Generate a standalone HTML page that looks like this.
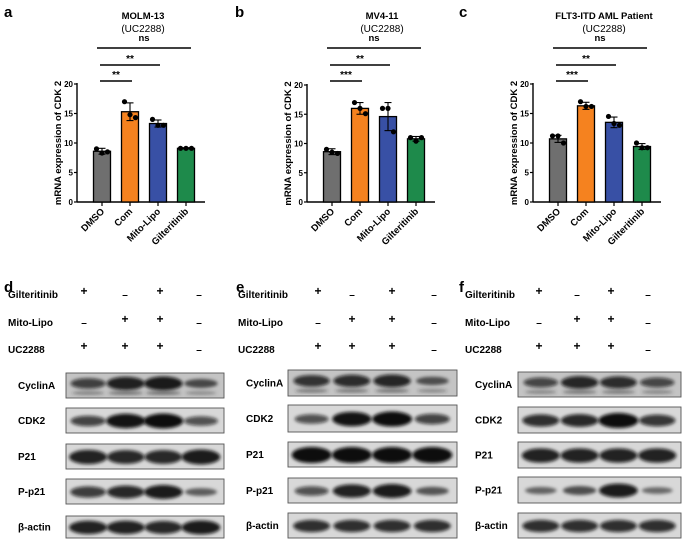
<!DOCTYPE html>
<html><head><meta charset="utf-8">
<style>
html,body{margin:0;padding:0;background:#fff;}
svg{display:block;font-family:"Liberation Sans",Arial,sans-serif;}
</style></head>
<body>
<svg id="fig" width="685" height="544" viewBox="0 0 685 544">
<defs>
<filter id="blur" x="-20%" y="-50%" width="140%" height="200%"><feGaussianBlur stdDeviation="1.5"/></filter>
</defs>
</svg>
<script>
// ---------- bar chart data ----------
const categories = ["DMSO","Com","Mito-Lipo","Gilteritinib"];
const yTicks = [0,5,10,15,20];
const meansA = [8.6,15.3,13.3,9.1];
const errA = [0.5,1.5,0.6,0.1];
const pointsA = [[9.0,8.3,8.5],[17.0,14.8,14.3],[14.0,13.0,13.0],[9.1,9.1,9.1]];
const meansB = [8.6,16.0,14.6,10.8];
const errB = [0.5,1.0,2.4,0.4];
const pointsB = [[9.0,8.5,8.3],[17.0,16.0,15.1],[16.0,16.0,12.0],[11.0,10.4,11.0]];
const meansC = [10.7,16.3,13.5,9.4];
const errC = [0.6,0.6,0.9,0.5];
const pointsC = [[11.2,11.2,10.0],[17.0,16.2,16.2],[14.5,13.3,13.0],[10.0,9.2,9.2]];
const sigLabelsA = ["**","**","ns"];
const sigLabelsB = ["***","**","ns"];
const sigLabelsC = ["***","**","ns"];
const sigPairs = [[0,1],[0,2],[0,3]];
const barColors = ["#6f6f6f","#f5821f","#3850a5","#1e8a4b"];

// ---------- blot data (band strength 0..1) ----------
const treatments = ["Gilteritinib","Mito-Lipo","UC2288"];
const signs = [["+","–","+","–"],["–","+","+","–"],["+","+","+","–"]];
const proteins = ["CyclinA","CDK2","P21","P-p21","β-actin"];
const blotD = [[0.6,0.85,0.9,0.45],[0.6,0.95,1.0,0.5],[0.85,0.8,0.8,0.9],[0.65,0.8,0.9,0.35],[0.85,0.85,0.8,0.9]];
const blotE = [[0.7,0.75,0.8,0.4],[0.5,0.95,1.0,0.6],[1.0,1.0,1.0,1.0],[0.5,0.85,0.9,0.4],[0.75,0.75,0.75,0.75]];
const blotF = [[0.55,0.8,0.75,0.55],[0.75,0.8,1.0,0.7],[0.85,0.85,0.85,0.85],[0.3,0.45,0.9,0.25],[0.75,0.75,0.75,0.75]];

const svg = document.getElementById('fig');
const NS = "http://www.w3.org/2000/svg";
function mk(tag, attrs, parent){
  const e = document.createElementNS(NS, tag);
  for (const k in attrs) e.setAttribute(k, attrs[k]);
  (parent||svg).appendChild(e);
  return e;
}
function txt(str, attrs, parent){ const t = mk('text', attrs, parent); t.textContent = str; return t; }

function barPanel(cfg){
  const g = mk('g', {});
  
  
  const y = v => cfg.y0 - (v/20)*(cfg.y0-cfg.y20);
  const x = i => cfg.ax + 25 + i*28;
  const L = txt(cfg.letter, {x:cfg.lx, y:17, 'font-size':15, 'font-weight':'bold'}, g);
   
  const t1 = txt(cfg.title, {x:cfg.tx, y:19, 'font-size':9.5, 'font-weight':'bold', 'text-anchor':'middle'}, g);
   
  const t2 = txt("(UC2288)", {x:cfg.tx, y:32, 'font-size':10, 'text-anchor':'middle'}, g);
   
  const ya = mk('line', {x1:cfg.ax, y1:cfg.y20-1, x2:cfg.ax, y2:cfg.y0, stroke:'#000','stroke-width':1.4}, g);
   
  const xa = mk('line', {x1:cfg.ax, y1:cfg.y0, x2:cfg.ax+128, y2:cfg.y0, stroke:'#000','stroke-width':1.4}, g);
   
  yTicks.forEach(v=>{
    mk('line',{x1:cfg.ax-3,y1:y(v),x2:cfg.ax,y2:y(v),stroke:'#000','stroke-width':1.2},g);
    const tl = txt(String(v),{x:cfg.ax-4,y:y(v)+3,'font-size':8,'font-weight':'bold','text-anchor':'end'},g);
     
  });
  const yt = txt("mRNA expression of CDK 2",{x:0,y:0,'font-size':9.5,'font-weight':'bold','text-anchor':'middle',transform:`translate(${cfg.ax-16},${(cfg.y0+cfg.y20)/2}) rotate(-90)`},g);
   
  cfg.means.forEach((m,i)=>{
    const cx = x(i);
    const b = mk('rect',{x:cx-8.5,y:y(m),width:17,height:cfg.y0-y(m),fill:barColors[i],stroke:'#000','stroke-width':1.3},g);
     
    const e = cfg.err[i];
    mk('line',{x1:cx,y1:y(m+e),x2:cx,y2:y(m-e),stroke:'#000','stroke-width':1.1},g);
    mk('line',{x1:cx-3.5,y1:y(m+e),x2:cx+3.5,y2:y(m+e),stroke:'#000','stroke-width':1.1},g);
    mk('line',{x1:cx-3.5,y1:y(m-e),x2:cx+3.5,y2:y(m-e),stroke:'#000','stroke-width':1.1},g);
    cfg.points[i].forEach((p,j)=>{
      const d = mk('circle',{cx:cx+(j-1)*5.5,cy:y(p),r:2.6,fill:'#000'},g);
       
    });
    mk('line',{x1:cx,y1:cfg.y0,x2:cx,y2:cfg.y0+4,stroke:'#000','stroke-width':1.2},g);
    const xl = txt(categories[i],{x:0,y:0,'font-size':9.5,'font-weight':'bold','text-anchor':'end',transform:`translate(${cx+3},${cfg.y0+10}) rotate(-45)`},g);
     
  });
  const sigY = [81,65,48];
  sigPairs.forEach((pr,k)=>{
    const x1 = x(pr[0])-2-(k==2?3:0), x2 = x(pr[1])+2+(k==2?3:0);
    const ln = mk('line',{x1:x1,y1:sigY[k],x2:x2,y2:sigY[k],stroke:'#000','stroke-width':1.4},g);
     
    const st = txt(cfg.sig[k],{x:(x1+x2)/2,y:sigY[k]-(k==2?7:3),'font-size':k==2?9.5:10,'font-weight':'bold','text-anchor':'middle'},g);
     
  });
}
barPanel({name:'chart-molm13',letter:'a',lx:4,title:'MOLM-13',tx:143,ax:77,y0:202,y20:84,means:meansA,err:errA,points:pointsA,sig:sigLabelsA});
barPanel({name:'chart-mv411',letter:'b',lx:235,title:'MV4-11',tx:382,ax:307,y0:202,y20:85,means:meansB,err:errB,points:pointsB,sig:sigLabelsB});
barPanel({name:'chart-patient',letter:'c',lx:459,title:'FLT3-ITD AML Patient',tx:604,ax:533,y0:202,y20:84,means:meansC,err:errC,points:pointsC,sig:sigLabelsC});

function blotPanel(cfg){
  const g = mk('g', {});
  
  
  const L = txt(cfg.letter,{x:cfg.lx,y:292,'font-size':15,'font-weight':'bold'},g);
   
  const ty = [298,326,353];
  treatments.forEach((t,r)=>{
    const tl = txt(t,{x:cfg.tlx,y:ty[r],'font-size':10,'font-weight':'bold'},g);
     
    signs[r].forEach((s,c)=>{
      const sg = txt(s,{x:cfg.sx[c],y:ty[r]-(s=='+'?3:0),'font-size':s=='+'?12:10,'font-weight':'bold','text-anchor':'middle'},g);
       
    });
  });
  const bw = cfg.bx2-cfg.bx1;
  proteins.forEach((p,r)=>{
    const [y1,y2] = cfg.rows[r];
    const h = y2-y1;
    const pl = txt(p,{x:cfg.plx,y:(y1+y2)/2+3.5,'font-size':10,'font-weight':'bold'},g);
     
    const box = mk('rect',{x:cfg.bx1,y:y1,width:bw,height:h,fill:r==0?'#c4c4c4':'#d8d8d8',stroke:'#555','stroke-width':0.9},g);
     
    cfg.data[r].forEach((v,c)=>{
      const cx = cfg.bx1 + bw*(0.14+c*0.238);
      const cy = y1 + h*(r==0?0.42:0.52);
      const band = mk('ellipse',{cx:cx,cy:cy,rx:14+6*v,ry:2+5.5*v*(r==2?1.1:1),fill:'#0a0a0a','fill-opacity':0.35+0.65*v,filter:'url(#blur)'},g);
       
      if(r==0){
        mk('ellipse',{cx:cx,cy:y1+h*0.8,rx:13+5*v,ry:1.8,fill:'#333','fill-opacity':0.25+0.4*v,filter:'url(#blur)'},g);
      }
    });
  });
}
blotPanel({name:'blot-panel-d',letter:'d',lx:4,tlx:8,sx:[84,125,160,199],plx:18,bx1:66,bx2:224,
  rows:[[373,398],[408,433],[444,469],[479,504],[516,538]],data:blotD});
blotPanel({name:'blot-panel-e',letter:'e',lx:236,tlx:238,sx:[318,352,392,434],plx:246,bx1:288,bx2:457,
  rows:[[370,396],[405,432],[442,467],[478,503],[513,538]],data:blotE});
blotPanel({name:'blot-panel-f',letter:'f',lx:459,tlx:465,sx:[539,577,611,648],plx:475,bx1:518,bx2:681,
  rows:[[372,397],[407,433],[442,468],[477,503],[513,538]],data:blotF});
</script>
</body></html>
